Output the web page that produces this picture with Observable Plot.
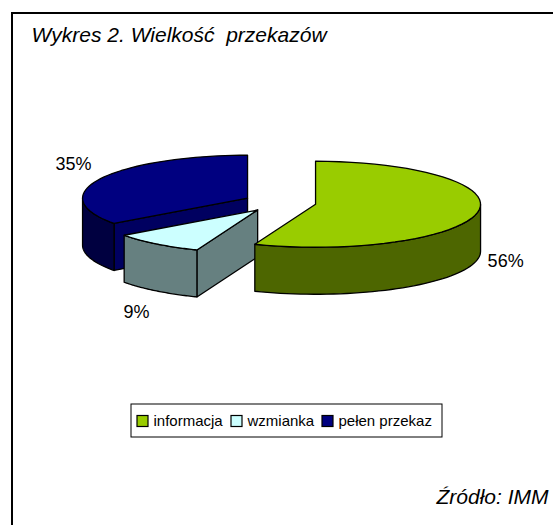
<!DOCTYPE html>
<html><head><meta charset="utf-8">
<style>html,body{margin:0;padding:0;background:#fff}svg{display:block}</style>
<script src="https://cdn.jsdelivr.net/npm/d3@7"></script>
<script src="https://cdn.jsdelivr.net/npm/@observablehq/plot@0.6"></script>
</head><body>
<script>
const categories = ["informacja", "wzmianka", "pełen przekaz"];
const shares = [56, 9, 35];
const topColors = ["#99cc00", "#ccffff", "#000080"];
const sideColors = ["#4d6600", "#668080", "#000040"];
const cutColors = ["#4d6600", "#668080", "#000060"];
const title = "Wykres 2. Wielkość  przekazów";
const source = "Źródło: IMM";

// layout of the tilted pie
const W = 553, H = 525;
const C = [279.4, 202], RX = 165, RY = 43, DEPTH = 47, EXPLODE = 0.22;
const labelShift = [[28, 49], [-20, 68], [-27, -14]];

const total = d3.sum(shares);
let acc = 0;
const slices = shares.map((v, i) => {
  const a0 = acc / total * 2 * Math.PI; acc += v;
  const a1 = acc / total * 2 * Math.PI;
  const m = (a0 + a1) / 2;
  const cx = C[0] + EXPLODE * RX * Math.sin(m);
  const cy = C[1] - EXPLODE * RY * Math.cos(m);
  return {i, v, a0, a1, m, cx, cy};
});
const rim = (s, a, d = 0) => ({x: s.cx + RX * Math.sin(a), y: s.cy - RY * Math.cos(a) + d});
const arc = (s, a0, a1, d = 0) => d3.range(0, 49).map(k => rim(s, a0 + (a1 - a0) * k / 48, d));
const close = pts => [...pts, pts[0]];

function faces(s) {
  const top = close([{x: s.cx, y: s.cy}, ...arc(s, s.a0, s.a1)]);
  const out = [];
  const wall = (a0, a1) => close([...arc(s, a0, a1), ...arc(s, a1, a0, DEPTH)]);
  const cut = a => close([{x: s.cx, y: s.cy}, rim(s, a), rim(s, a, DEPTH), {x: s.cx, y: s.cy + DEPTH}]);
  if (s.i === 0) out.push({pts: wall(Math.PI / 2, s.a1), fill: sideColors[0]});
  if (s.i === 1) { out.push({pts: cut(s.a0), fill: cutColors[1]}); out.push({pts: wall(s.a0, s.a1), fill: sideColors[1]}); }
  if (s.i === 2) { out.push({pts: cut(s.a0), fill: cutColors[2]}); out.push({pts: wall(s.a0, 3 * Math.PI / 2), fill: sideColors[2]}); }
  out.push({pts: top, fill: topColors[s.i]});
  return out;
}
const order = [slices[2], slices[1], slices[0]];
const pieMarks = order.flatMap(faces).map(f =>
  Plot.line(f.pts, {x: "x", y: "y", fill: f.fill, stroke: "#000", strokeWidth: 1.3, strokeLinejoin: "round"}));

const labels = slices.map((s, i) => {
  const r = rim(s, s.m);
  return {x: r.x + labelShift[i][0], y: r.y + labelShift[i][1], t: s.v + "%"};
});

// legend layout
const legendX = [142.5, 236.5, 327.5], legendText = [153, 247, 338], legendY = 421;
const legendRows = categories.map((c, i) => ({c, fill: topColors[i], xs: legendX[i], xt: legendText[i]}));

const chart = Plot.plot({
  width: W, height: H, margin: 0,
  x: {domain: [0, W], range: [0, W], axis: null},
  y: {domain: [0, H], range: [0, H], axis: null},
  style: {background: "#fff", fontFamily: "'Liberation Sans', Arial, sans-serif", whiteSpace: "pre"},
  marks: [
    Plot.rect([{}], {x1: () => 12, x2: () => 600, y1: () => 13, y2: () => 600, fill: "#fff", stroke: "#000", strokeWidth: 2, clip: false}),
    Plot.text([title], {x: () => 31, y: () => 35, text: d => d, textAnchor: "start", fontSize: 21, fontStyle: "italic", fill: "#000"}),
    Plot.text([source], {x: () => 548, y: () => 497, text: d => d, textAnchor: "end", fontSize: 21, fontStyle: "italic", fill: "#000"}),
    ...pieMarks,
    Plot.text(labels, {x: "x", y: "y", text: "t", fontSize: 18, fill: "#000"}),
    Plot.rect([{}], {x1: () => 131, x2: () => 442, y1: () => 404, y2: () => 437, fill: "#fff", stroke: "#000", strokeWidth: 1}),
    Plot.rect(legendRows, {x1: d => d.xs - 5.5, x2: d => d.xs + 5.5, y1: () => legendY - 5.5, y2: () => legendY + 5.5, fill: "fill", stroke: "#000", strokeWidth: 1.2}),
    Plot.text(legendRows, {x: "xt", y: () => legendY, text: "c", textAnchor: "start", fontSize: 15, fill: "#000"})
  ]
});
document.body.append(chart);
</script>
</body></html>
